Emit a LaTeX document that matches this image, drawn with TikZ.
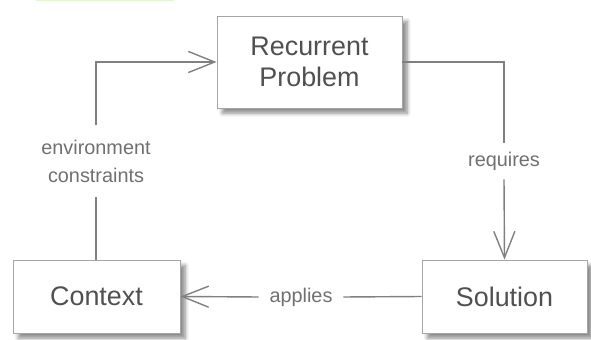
\documentclass[tikz,border=0pt]{standalone}
\usepackage{fontspec}
\setmainfont{Liberation Sans}
\usetikzlibrary{arrows.meta,shadows.blur}
\definecolor{linegray}{HTML}{808080}
\definecolor{textgray}{HTML}{505050}
\definecolor{labelgray}{HTML}{707070}
\definecolor{topgreen}{HTML}{E6F5D8}
\begin{document}
\begin{tikzpicture}[x=0.02cm,y=-0.02cm]
\tikzstyle{box_style} = [draw=linegray!70, fill=white, line width=0.5pt, text=textgray, align=center,
    font=\fontsize{15.3}{17.6}\selectfont, inner sep=0pt,
    blur shadow={shadow xshift=3pt, shadow yshift=-3pt, shadow blur steps=6, shadow opacity=45}]
\tikzstyle{label_style} = [text=labelgray, align=center, font=\fontsize{11.3}{16}\selectfont]
\tikzstyle{edge_style} = [linegray, line width=0.8pt]
\tikzstyle{arrow_style} = [edge_style, -{Straight Barb[length=15pt, width=12pt, line width=0.8pt]}]
    \useasboundingbox (0,0) rectangle (591,340);
    \fill[topgreen] (36,0) rectangle (174,1.5);

    \node[box_style, minimum width=185*0.02cm, minimum height=92*0.02cm] (problem) at (309.5,62) {Recurrent\\Problem};
    \node[box_style, minimum width=167*0.02cm, minimum height=73*0.02cm] (context) at (96.5,296.5) {Context};
    \node[box_style, minimum width=165*0.02cm, minimum height=73*0.02cm] (solution) at (504.5,296.5) {Solution};

    \node[label_style, inner ysep=8pt] (envlabel) at (96,161) {environment\\constraints};
    \node[label_style, inner ysep=5pt] (reqlabel) at (504,161) {requires};
    \node[label_style, inner xsep=6pt] (applabel) at (301,297) {applies};

    \coordinate (reqcorner) at (504,62);
    \coordinate (envcorner) at (96,62);

    \draw[edge_style] (context.north -| envlabel) -- (envlabel.south);
    \draw[arrow_style] (envlabel.north) -- (envcorner) -- (problem.west);
    \draw[edge_style] (problem.east) -- (reqcorner) -- (reqlabel.north);
    \draw[arrow_style] (reqlabel.south) -- (solution.north);
    \draw[edge_style] (solution.west) -- (applabel.east);
    \draw[arrow_style] (applabel.west) -- (context.east);
\end{tikzpicture}
\end{document}
